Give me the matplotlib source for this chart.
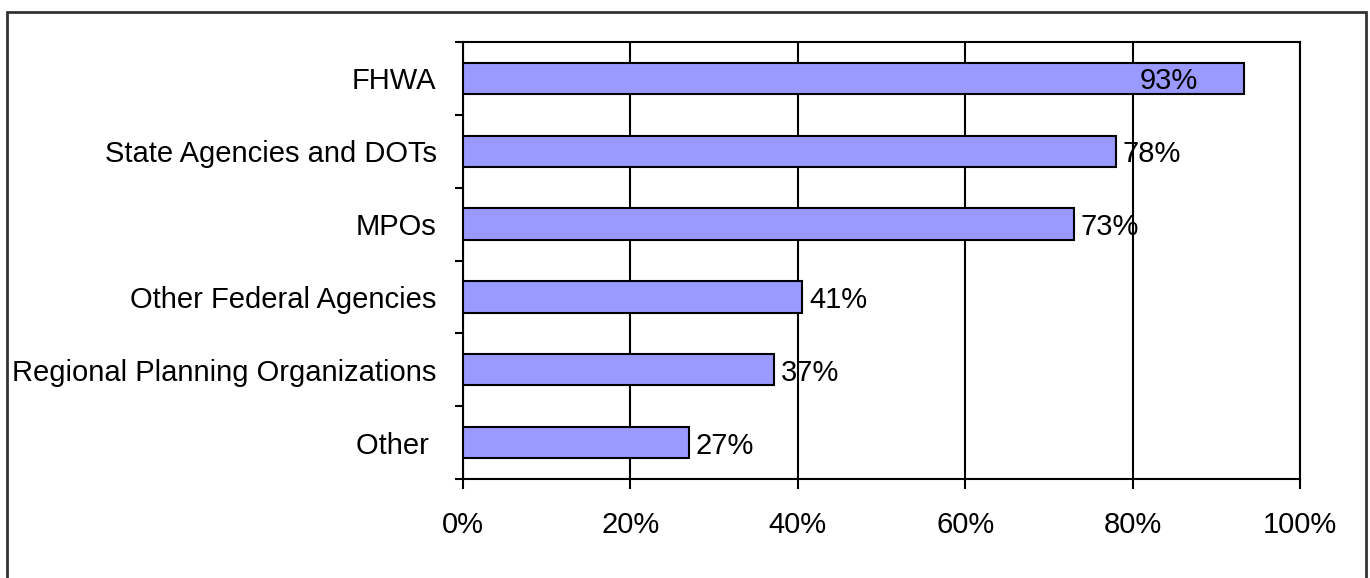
import numpy as np
import matplotlib
matplotlib.use('Agg')
import matplotlib.pyplot as plt
from matplotlib.patches import Rectangle
from matplotlib.ticker import FixedLocator, PercentFormatter

plt.rcParams['font.family'] = ['Liberation Sans', 'DejaVu Sans']

categories = ['FHWA', 'State Agencies and DOTs', 'MPOs', 'Other Federal Agencies',
              'Regional Planning Organizations', 'Other ']
values = [0.933, 0.78, 0.73, 0.405, 0.372, 0.27]
labels = ['93%', '78%', '73%', '41%', '37%', '27%']
xticks = [0, 0.2, 0.4, 0.6, 0.8, 1.0]

fs = 21

fig = plt.figure(figsize=(13.7, 5.78), dpi=100)
ax = fig.add_axes([463/1370, 1 - 479/578, 837/1370, 437/578])

y = np.arange(len(categories))
ax.barh(y, values, height=0.43, color='#9999FF', edgecolor='black', linewidth=1.5, zorder=3)

ax.set_xlim(0, 1)
ax.set_ylim(len(categories) - 0.5, -0.5)
ax.set_xticks(xticks)
ax.xaxis.set_major_formatter(PercentFormatter(1.0, decimals=0))
ax.set_yticks(y)
ax.set_yticklabels(categories)
ax.yaxis.set_minor_locator(FixedLocator(np.arange(-0.5, len(categories), 1)))

ax.tick_params(axis='x', direction='out', length=7, width=1.5, pad=16, labelsize=fs)
ax.tick_params(axis='y', which='major', length=0, pad=19, labelsize=fs)
ax.tick_params(axis='y', which='minor', direction='out', length=6, width=1.5)

ax.grid(axis='x', color='black', linewidth=1.5, zorder=0)
for s in ax.spines.values():
    s.set_linewidth(1.5)
    s.set_color('black')

# data labels: outside end, moved inside when it would not fit
for yi, v, lab in zip(y, values, labels):
    if v > 0.9:
        ax.annotate(lab, (v, yi), xytext=(-33, 0), textcoords='offset points',
                    ha='right', va='center_baseline', fontsize=fs, zorder=4)
    else:
        ax.annotate(lab, (v, yi), xytext=(5, 0), textcoords='offset points',
                    ha='left', va='center_baseline', fontsize=fs, zorder=4)

# outer chart border
fig.patches.append(Rectangle((7/1370, -0.1), 1359/1370, 1.1 - 12/578,
                             transform=fig.transFigure, fill=False,
                             edgecolor='#333333', linewidth=2))

fig.savefig('out.png', dpi=100)
